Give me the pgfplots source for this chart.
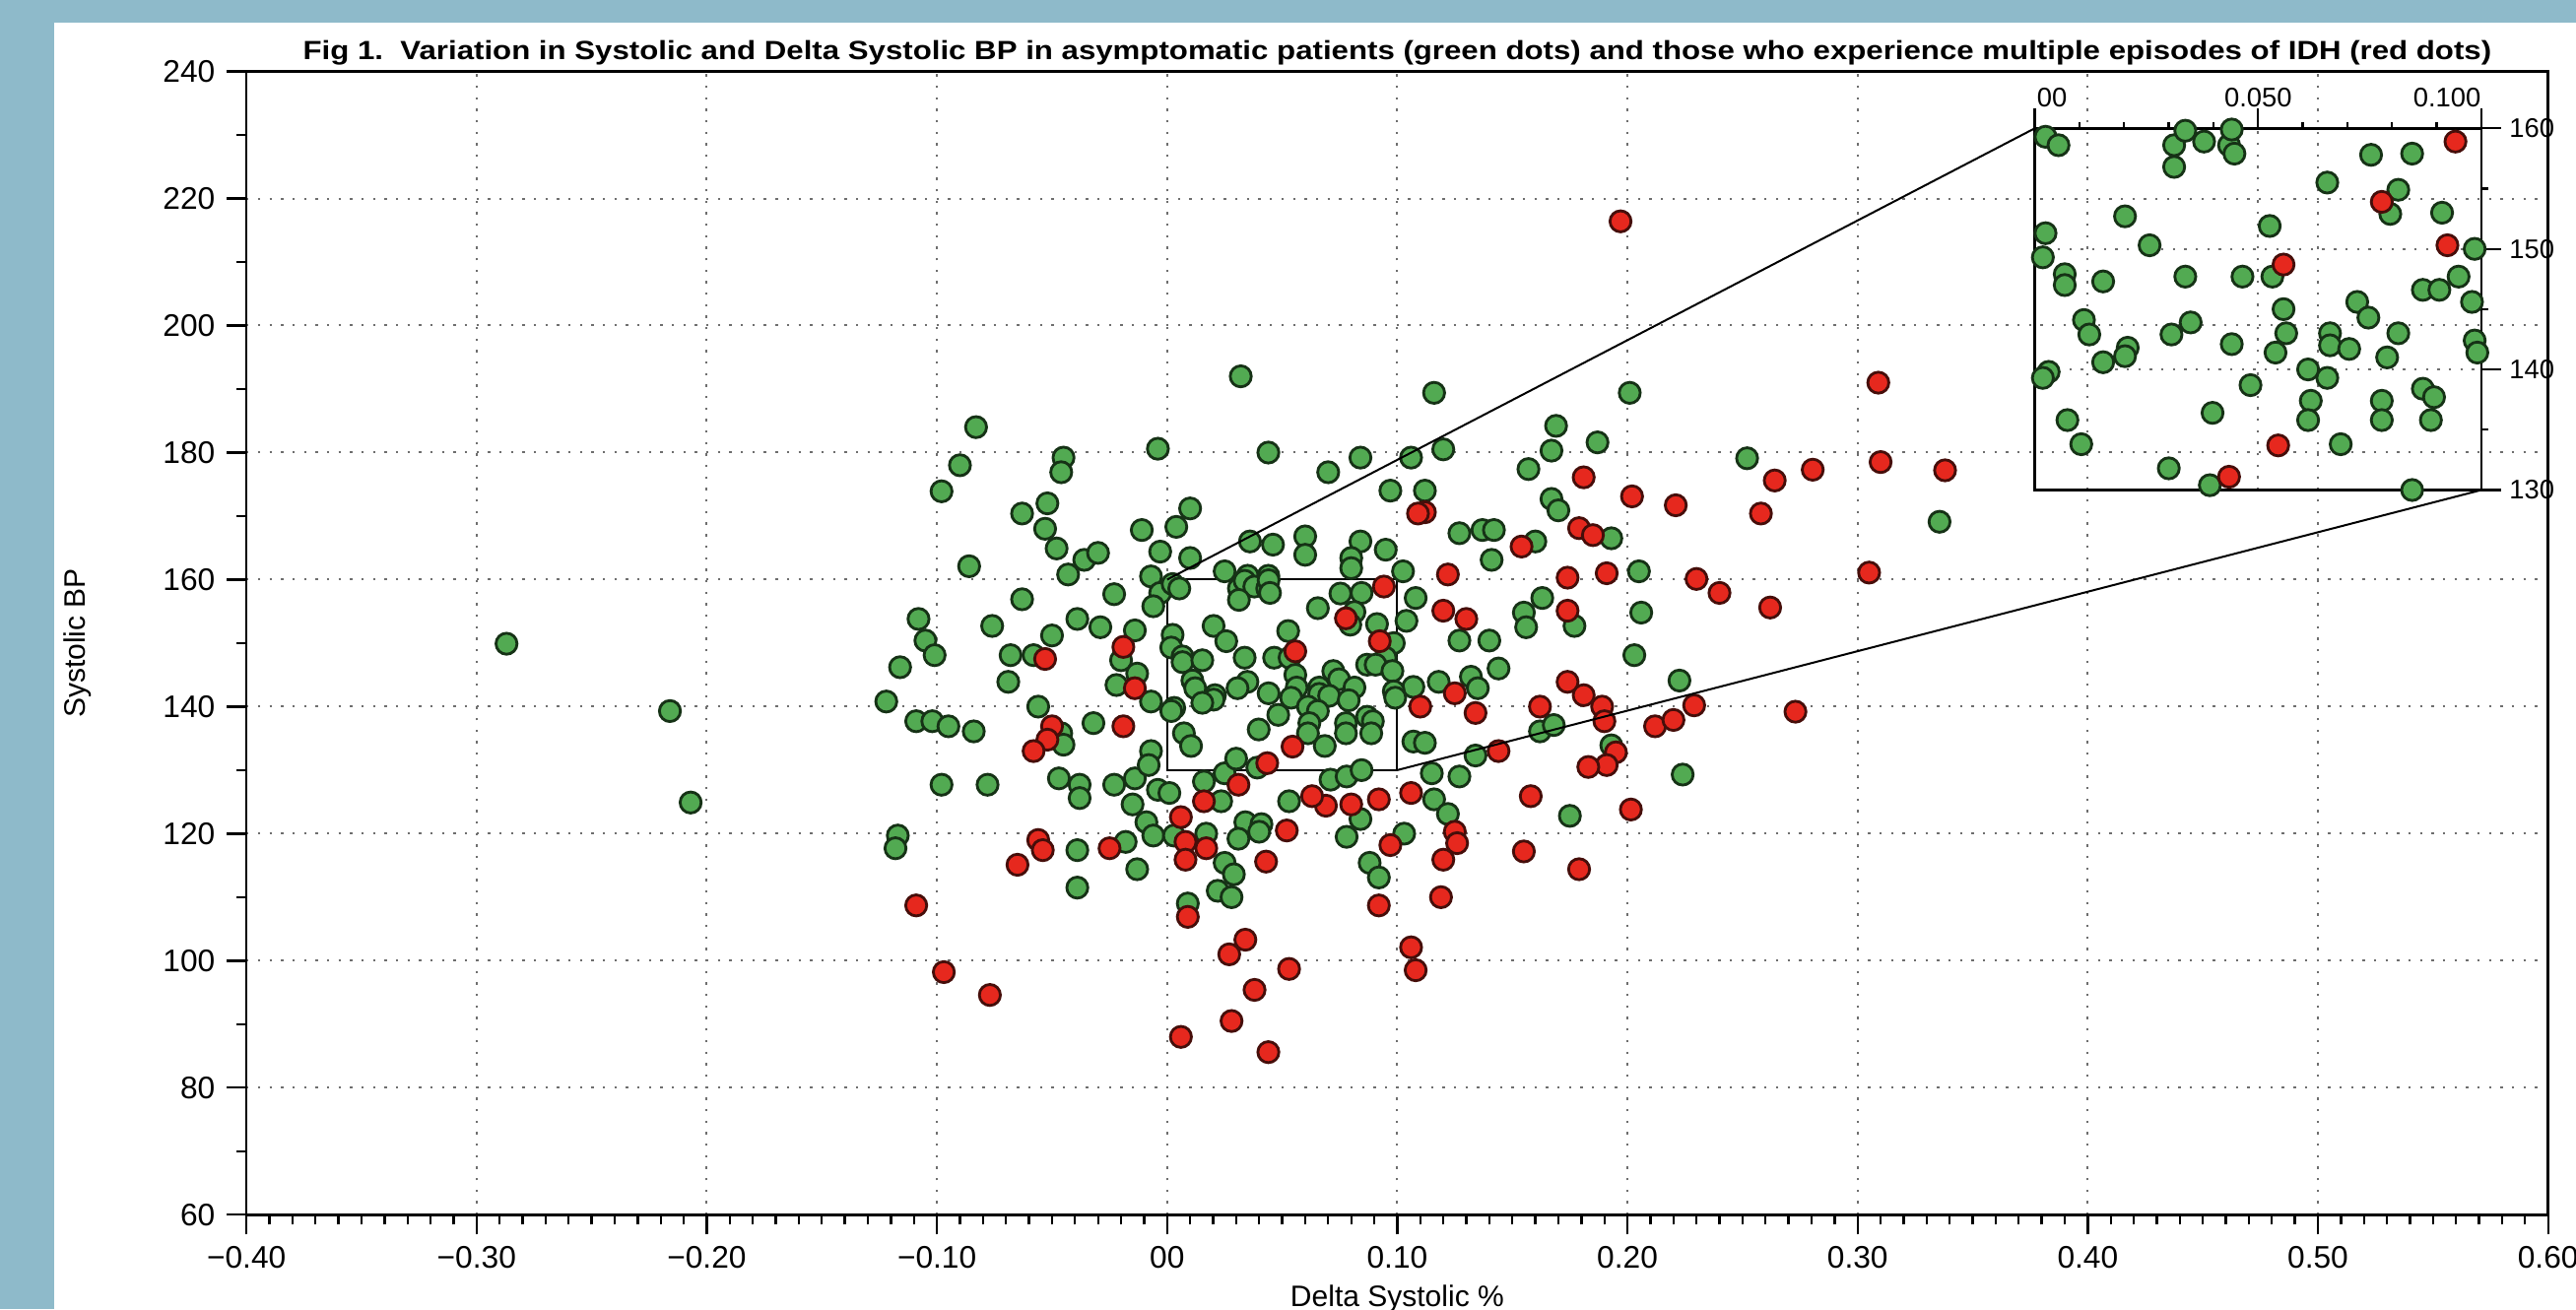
\documentclass[border=0pt]{standalone}
\usepackage{fontspec}
\setmainfont{Liberation Sans}
\usepackage{pgfplots}
\pgfplotsset{compat=1.18}
\usepackage{pgfplotstable}
\usepackage{graphicx}
\definecolor{bgblue}{RGB}{142,186,202}
\definecolor{gfill}{RGB}{82,170,82}
\definecolor{gedge}{RGB}{22,50,22}
\definecolor{rfill}{RGB}{230,40,30}
\definecolor{redge}{RGB}{70,14,10}
\definecolor{gridc}{RGB}{110,110,110}

\pgfplotstableread{
x y
-0.287 149.9
-0.216 139.3
-0.207 124.9
-0.083 184.0
-0.090 178.0
-0.098 173.9
-0.045 179.2
-0.046 176.9
-0.004 180.6
-0.063 170.4
-0.052 172.0
-0.053 168.0
-0.048 164.9
-0.036 163.1
-0.030 164.2
-0.043 160.8
-0.011 167.8
0.004 168.3
0.010 171.2
-0.003 164.4
0.010 163.4
-0.007 160.5
-0.003 157.9
-0.006 155.8
-0.023 157.7
-0.063 156.9
-0.086 162.1
-0.108 153.8
-0.105 150.4
-0.101 148.1
-0.076 152.7
-0.039 153.8
-0.029 152.5
-0.050 151.2
-0.068 148.1
-0.058 148.1
-0.116 146.2
-0.069 143.9
-0.014 152.0
-0.020 147.3
-0.022 143.4
-0.013 145.2
-0.007 140.8
-0.122 140.8
-0.109 137.7
-0.102 137.7
-0.095 136.9
-0.084 136.1
-0.056 140.0
-0.046 135.8
-0.045 134.0
-0.032 137.4
-0.007 133.0
-0.098 127.7
-0.078 127.7
-0.047 128.7
-0.038 127.7
-0.038 125.6
-0.023 127.7
-0.014 128.7
-0.008 130.8
-0.015 124.6
-0.009 121.8
-0.004 126.9
0.001 126.4
-0.006 119.7
0.003 119.7
-0.018 118.7
-0.013 114.4
-0.039 117.4
-0.039 111.5
-0.117 119.7
-0.118 117.7
0.009 109.0
0.032 192.0
0.116 189.4
0.201 189.4
0.044 180.0
0.084 179.2
0.106 179.2
0.120 180.5
0.070 176.9
0.169 184.2
0.167 180.3
0.187 181.6
0.157 177.4
0.097 174.0
0.112 174.0
0.167 172.7
0.170 170.9
0.193 166.5
0.036 166.0
0.046 165.5
0.060 166.8
0.060 163.9
0.084 166.0
0.095 164.7
0.080 163.4
0.080 161.8
0.025 161.3
0.035 160.6
0.044 160.6
0.1025 161.3
0.127 167.3
0.137 167.8
0.142 167.8
0.160 166.0
0.141 163.1
0.205 161.3
0.108 157.1
0.104 153.5
0.127 150.4
0.140 150.4
0.144 146.0
0.163 157.1
0.155 154.8
0.156 152.5
0.177 152.7
0.206 154.8
0.203 148.1
0.107 143.1
0.118 143.9
0.132 144.7
0.135 142.9
0.162 136.1
0.168 137.1
0.107 134.5
0.112 134.3
0.193 133.9
0.134 132.3
0.115 129.5
0.127 129.0
0.175 122.8
0.116 125.4
0.122 123.1
0.103 120.0
0.071 128.5
0.078 129.0
0.084 122.3
0.078 119.5
0.088 115.4
0.092 113.1
0.053 125.1
0.034 121.8
0.041 121.5
0.031 119.2
0.040 120.3
0.0235 125.1
0.016 128.2
0.025 129.5
0.017 120.0
0.025 115.4
0.029 113.6
0.022 111.0
0.028 110.0
0.252 179.1
0.3356 169.1
0.2226 144.1
0.224 129.3
0.0024 159.3
0.0053 158.6
0.0312 158.6
0.0337 159.8
0.0379 158.9
0.0435 158.6
0.0441 159.9
0.0447 157.9
0.0312 156.8
0.0753 157.8
0.0845 157.9
0.0655 155.5
0.0814 154.9
0.0796 152.9
0.0912 153.0
0.0202 152.7
0.0526 151.9
0.0024 151.3
0.0257 150.3
0.0018 149.3
0.0985 150.0
0.0067 147.9
0.0067 147.0
0.0153 147.3
0.0337 147.7
0.0465 147.7
0.0532 147.7
0.0949 147.7
0.0869 146.6
0.0906 146.6
0.0979 145.6
0.0722 145.6
0.0747 144.3
0.0557 145.0
0.0563 143.0
0.0539 141.4
0.0110 144.1
0.0122 142.9
0.0349 143.9
0.0306 142.9
0.0441 142.1
0.0208 141.8
0.0202 141.1
0.0153 140.6
0.0661 143.0
0.0661 142.0
0.0704 141.7
0.0814 143.0
0.0789 141.0
0.0985 142.4
0.0991 141.4
0.0031 139.8
0.0018 139.3
0.0612 140.0
0.0655 139.3
0.0483 138.7
0.0869 138.4
0.0894 137.7
0.0618 137.4
0.0612 135.8
0.0777 137.4
0.0777 135.8
0.0887 135.8
0.0398 136.4
0.0073 135.8
0.0104 133.8
0.0685 133.8
0.0300 131.8
0.0392 130.4
0.0845 130.0
}\greendata

\pgfplotstableread{
x y
-0.053 147.5
-0.019 149.4
-0.014 142.9
-0.050 136.9
-0.052 134.8
-0.058 133.0
-0.019 136.9
0.006 122.6
0.008 118.7
0.008 115.9
-0.025 117.7
-0.056 119.0
-0.054 117.4
-0.065 115.1
-0.109 108.7
-0.097 98.2
-0.077 94.6
0.006 88.0
0.009 106.9
0.181 176.1
0.202 173.1
0.112 170.6
0.109 170.4
0.179 168.1
0.185 167.0
0.154 165.2
0.122 160.8
0.174 160.3
0.191 161.0
0.120 155.1
0.130 153.8
0.174 155.1
0.125 142.1
0.134 139.0
0.110 140.0
0.162 140.0
0.174 143.9
0.181 141.8
0.189 140.0
0.190 137.7
0.212 136.9
0.195 132.8
0.144 133.0
0.191 130.8
0.183 130.5
0.158 125.9
0.2015 123.8
0.106 126.4
0.125 120.3
0.126 118.5
0.120 115.9
0.097 118.2
0.119 110.0
0.155 117.2
0.179 114.4
0.106 102.1
0.108 98.5
0.092 125.4
0.080 124.6
0.069 124.4
0.063 125.9
0.092 108.7
0.052 120.5
0.043 115.6
0.016 125.1
0.031 127.7
0.017 117.7
0.034 103.3
0.027 101.0
0.053 98.7
0.038 95.4
0.028 90.5
0.044 85.6
0.309 191.0
0.310 178.5
0.338 177.2
0.264 175.6
0.2805 177.3
0.258 170.4
0.221 171.7
0.305 161.1
0.230 160.1
0.240 157.9
0.262 155.6
0.229 140.2
0.220 137.9
0.273 139.2
0.197 216.4
0.0942 158.9
0.0777 153.9
0.0924 150.3
0.0557 148.7
0.0545 133.7
0.0435 131.1
}\reddata

\pgfplotsset{
  gdot/.style={only marks, mark=*, mark size=3.2pt,
    mark options={fill=gfill, draw=gedge, line width=0.85pt}},
  rdot/.style={only marks, mark=*, mark size=3.2pt,
    mark options={fill=rfill, draw=redge, line width=0.85pt}},
}

\begin{document}
\begin{tikzpicture}
\fill[bgblue] (-75pt,-28.75pt) rectangle (709pt,369.75pt);
\fill[white] (-58.65pt,-28.75pt) rectangle (709pt,362.75pt);
\begin{axis}[
  at={(0pt,0pt)}, anchor=south west,
  width=700.5pt, height=348pt, scale only axis,
  xmin=-0.4, xmax=0.6, ymin=60, ymax=240,
  xtick={-0.4,-0.3,-0.2,-0.1,0,0.1,0.2,0.3,0.4,0.5,0.6},
  xticklabels={−0.40,−0.30,−0.20,−0.10,00,0.10,0.20,0.30,0.40,0.50,0.60},
  minor x tick num=9,
  ytick={60,80,100,120,140,160,180,200,220,240},
  yticklabels={60,80,100,120,140,160,180,200,220,240},
  minor y tick num=1,
  tick align=outside, tick pos=left,
  major tick length=6pt, minor tick length=3pt,
  tick style={black, line width=0.7pt},
  axis line style={line width=0.8pt},
  grid=major,
  major grid style={gridc, line width=0.6pt, dash pattern=on 0.7pt off 2.8pt},
  ticklabel style={font=\fontsize{9.5}{10}\selectfont},
]
\addplot[gdot] table {\greendata};
\addplot[rdot] table {\reddata};
\draw[line width=0.6pt] (axis cs:0,130) rectangle (axis cs:0.1,160);
\coordinate (mA) at (axis cs:0,160);
\coordinate (mB) at (axis cs:0.1,130);
\coordinate (iSW) at (axis cs:0.377,174.1);
\end{axis}
\begin{axis}[
  at={(iSW)}, anchor=south west,
  width=135.9pt, height=110.1pt, scale only axis,
  xmin=0, xmax=0.1, ymin=130, ymax=160,
  xtick={0,0.05,0.1}, xticklabels={,,},
  minor x tick num=4,
  ytick={130,140,150,160}, yticklabels={130,140,150,160},
  minor y tick num=1,
  xtick pos=right, ytick pos=right, yticklabel pos=right,
  tick align=outside,
  major tick length=6pt, minor tick length=2pt,
  tick style={black, line width=0.7pt},
  axis line style={line width=0.8pt},
  grid=major,
  major grid style={gridc, line width=0.6pt, dash pattern=on 0.7pt off 2.8pt},
  yticklabel style={font=\fontsize{8.2}{9}\selectfont, xshift=-1pt},
  clip=false,
]
\addplot[gdot, restrict x to domain=0:0.1, restrict y to domain=130:160] table {\greendata};
\addplot[rdot, restrict x to domain=0:0.1, restrict y to domain=130:160] table {\reddata};
\node[anchor=base west, font=\fontsize{8.2}{9}\selectfont, inner sep=0pt] at ([xshift=0.5pt,yshift=6.6pt]axis cs:0,160) {00};
\node[anchor=base, font=\fontsize{8.2}{9}\selectfont, inner sep=0pt] at ([yshift=6.6pt]axis cs:0.05,160) {0.050};
\node[anchor=base east, font=\fontsize{8.2}{9}\selectfont, inner sep=0pt] at ([yshift=6.6pt]axis cs:0.1,160) {0.100};
\coordinate (iA) at (axis cs:0,160);
\coordinate (iB) at (axis cs:0.1,130);
\end{axis}
\draw[line width=0.6pt] (mA)--(iA) (mB)--(iB);
\node[anchor=base, inner sep=0pt] at (350.25pt,351.75pt) {\resizebox{666pt}{5.8pt}{\bfseries Fig 1.\ \ Variation in Systolic and Delta Systolic BP in asymptomatic patients (green dots) and those who experience multiple episodes of IDH (red dots)}};
\node[anchor=base, rotate=90, inner sep=0pt] at (-49.15pt,174pt) {\fontsize{9}{10}\selectfont Systolic BP};
\node[anchor=base, inner sep=0pt] at (350.25pt,-28pt) {\fontsize{9}{10}\selectfont Delta Systolic \%};
\pgfresetboundingbox
\useasboundingbox (-75pt,-28.75pt) rectangle (709pt,369.75pt);
\end{tikzpicture}
\end{document}
